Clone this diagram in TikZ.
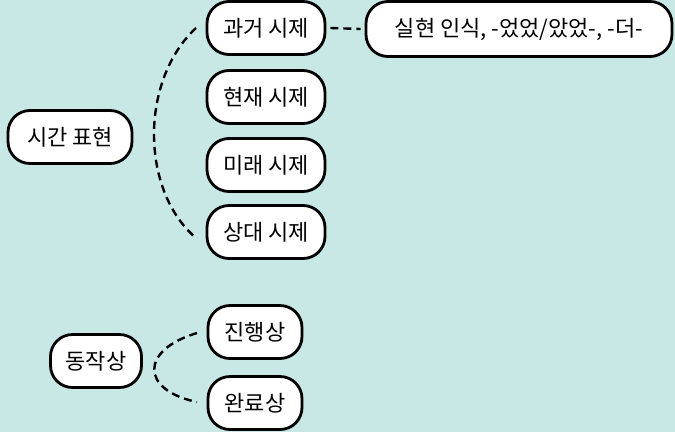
\documentclass[tikz,border=0pt]{standalone}
\usepackage{fontspec}
\setmainfont{Noto Sans CJK KR}
\definecolor{bgteal}{HTML}{C8E8E5}
\begin{document}
\begin{tikzpicture}[x=1pt,y=-1pt,
  pill/.style={draw=black,line width=2.8pt,fill=white,rounded corners=22pt,
    inner sep=0pt,minimum height=53pt,font=\fontsize{22}{26}\selectfont},
  link/.style={draw=black,line width=2.4pt,dash pattern=on 8pt off 5pt}]
\fill[bgteal] (0,0) rectangle (675,432);
\useasboundingbox (0,0) rectangle (675,432);
\node[pill,minimum width=124pt] (time) at (70,137) {시간 표현};
\node[pill,minimum width=118pt] (past) at (266,28) {과거 시제};
\node[pill,minimum width=118pt] (pres) at (266,97) {현재 시제};
\node[pill,minimum width=118pt] (fut) at (266,165) {미래 시제};
\node[pill,minimum width=118pt] (rel) at (266,232) {상대 시제};
\node[pill,minimum width=306pt,minimum height=55pt] (real) at (519,29) {실현 인식, -었었/았었-, -더-};
\node[pill,minimum width=91pt] (asp) at (96,361) {동작상};
\node[pill,minimum width=94pt] (prog) at (255,332) {진행상};
\node[pill,minimum width=94pt] (perf) at (255,403) {완료상};
\coordinate (a1) at (196,28);
\coordinate (a2) at (196,238);
\coordinate (b1) at (197,333);
\coordinate (b2) at (197,402);
\draw[link] (past.east) ++(4,0) -- ([xshift=-4pt]real.west);
\draw[link] (a1) .. controls (140,80) and (140,190) .. (a2);
\draw[link] (b1) .. controls (140,350) and (140,390) .. (b2);
\end{tikzpicture}
\end{document}
